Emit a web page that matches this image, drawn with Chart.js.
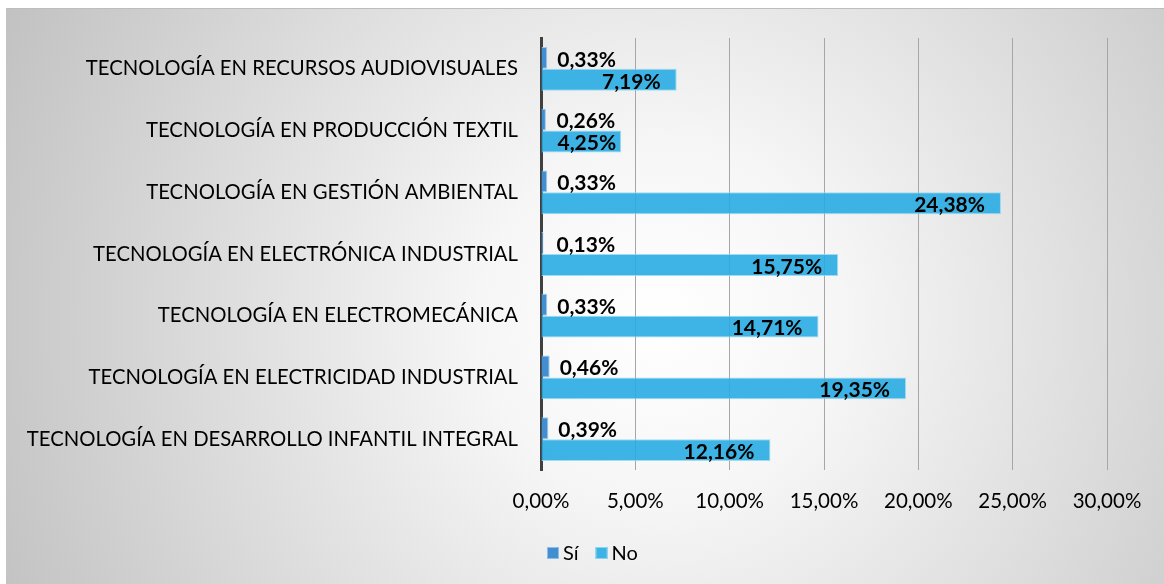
<!DOCTYPE html>
<html>
<head>
<meta charset="utf-8">
<script src="https://cdn.jsdelivr.net/npm/chart.js@4/dist/chart.umd.min.js"></script>
<style>
html,body{margin:0;padding:0;background:#fff;}
#wrap{width:1164px;height:584px;position:relative;}
</style>
</head>
<body>
<div id="wrap"><canvas id="c" width="1164" height="584"></canvas></div>
<script>
const categories = [
  'TECNOLOGÍA EN RECURSOS AUDIOVISUALES',
  'TECNOLOGÍA EN PRODUCCIÓN TEXTIL',
  'TECNOLOGÍA EN GESTIÓN AMBIENTAL',
  'TECNOLOGÍA EN ELECTRÓNICA INDUSTRIAL',
  'TECNOLOGÍA EN ELECTROMECÁNICA',
  'TECNOLOGÍA EN ELECTRICIDAD INDUSTRIAL',
  'TECNOLOGÍA EN DESARROLLO INFANTIL INTEGRAL'
];
const siValues = [0.33, 0.26, 0.33, 0.13, 0.33, 0.46, 0.39];
const noValues = [7.19, 4.25, 24.38, 15.75, 14.71, 19.35, 12.16];
const seriesNames = ['Sí', 'No'];
const xTickValues = [0, 5, 10, 15, 20, 25, 30];

const FONT = 'Lato';
const fmt = v => v.toFixed(2).replace('.', ',') + '%';

const bgPlugin = {
  id: 'bg',
  beforeDraw(chart) {
    const ctx = chart.ctx;
    ctx.save();
    ctx.fillStyle = '#ffffff';
    ctx.fillRect(0, 0, chart.width, chart.height);
    const g = ctx.createRadialGradient(660, 320, 0, 660, 320, 720);
    g.addColorStop(0, '#ffffff');
    g.addColorStop(0.25, '#f6f6f6');
    g.addColorStop(1, '#c2c2c2');
    ctx.fillStyle = g;
    ctx.fillRect(6, 8, chart.width - 6, chart.height - 8);
    ctx.fillStyle = '#bdbdbd';
    ctx.fillRect(6, 8, chart.width - 6, 1);
    ctx.restore();
  }
};

const labelPlugin = {
  id: 'vlabels',
  afterDatasetsDraw(chart) {
    const ctx = chart.ctx;
    ctx.save();
    ctx.font = 'bold 21px ' + FONT;
    ctx.fillStyle = '#000';
    ctx.textBaseline = 'middle';
    chart.data.datasets.forEach((ds, di) => {
      const meta = chart.getDatasetMeta(di);
      meta.data.forEach((bar, i) => {
        const txt = fmt(ds.data[i]);
        const w = ctx.measureText(txt).width;
        let x;
        if (di === 0) {
          x = Math.max(bar.x + 10, bar.base + 15);
        } else {
          x = Math.max(bar.x - 16 - w, bar.base + 16);
        }
        ctx.textAlign = 'left';
        ctx.fillText(txt, x, bar.y + 2);
      });
    });
    ctx.restore();
  }
};

const legendPlugin = {
  id: 'customLegend',
  afterDraw(chart) {
    const ctx = chart.ctx;
    ctx.save();
    ctx.font = '20px ' + FONT;
    ctx.textBaseline = 'middle';
    ctx.textAlign = 'left';
    let x = 547;
    const y = 553;
    chart.data.datasets.forEach((ds, di) => {
      ctx.fillStyle = ds.backgroundColor;
      ctx.fillRect(x, y - 6, 12, 12);
      ctx.strokeStyle = ds.borderColor;
      ctx.lineWidth = 1;
      ctx.strokeRect(x + 0.5, y - 5.5, 11, 11);
      ctx.fillStyle = '#000';
      ctx.fillText(ds.label, x + 16, y + 1);
      x += 16 + ctx.measureText(ds.label).width + 17;
    });
    ctx.restore();
  }
};

new Chart(document.getElementById('c'), {
  type: 'bar',
  data: {
    labels: categories,
    datasets: [
      { label: seriesNames[0], data: siValues, backgroundColor: '#418fd0', borderColor: 'rgba(150,195,235,0.9)', borderWidth: 1, barPercentage: 1, categoryPercentage: 0.71 },
      { label: seriesNames[1], data: noValues, backgroundColor: 'rgba(40,172,226,0.9)', borderColor: 'rgba(150,215,240,0.9)', borderWidth: 1, barPercentage: 1, categoryPercentage: 0.71 }
    ]
  },
  options: {
    indexAxis: 'y',
    responsive: false,
    animation: false,
    devicePixelRatio: 1,
    layout: { padding: { top: 38, right: 57, bottom: 50, left: 0 } },
    scales: {
      x: {
        min: 0, max: 30,
        afterBuildTicks(scale) { scale.ticks = xTickValues.map(v => ({ value: v })); },
        afterFit(scale) { scale.height = 64; },
        grid: { color: '#a6a6a6', lineWidth: 1, drawTicks: false },
        border: { display: false },
        ticks: { padding: 19, color: '#000', font: { family: FONT, size: 20.5 }, callback: v => fmt(v) }
      },
      y: {
        afterFit(scale) { scale.width = 541; },
        grid: { display: false, drawTicks: false },
        border: { display: true, color: '#404040', width: 3 },
        ticks: { padding: 23, color: '#000', font: { family: FONT, size: 20.3 } }
      }
    },
    plugins: {
      legend: { display: false },
      tooltip: { enabled: false }
    }
  },
  plugins: [bgPlugin, labelPlugin, legendPlugin]
});
</script>
</body>
</html>
